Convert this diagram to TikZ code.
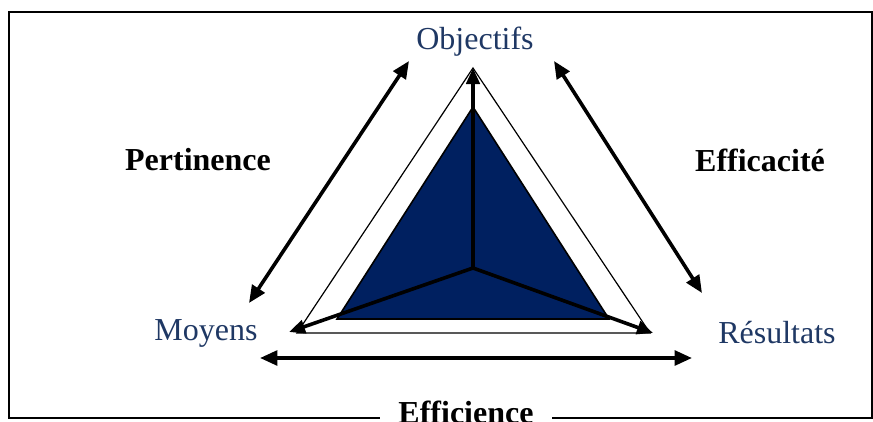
\documentclass[tikz,border=0pt]{standalone}
\usepackage{fontspec}
\setmainfont{Liberation Serif}
\usetikzlibrary{arrows.meta}
\definecolor{navyfill}{RGB}{0,32,96}
\definecolor{labelblue}{RGB}{31,56,100}
\tikzset{
  pole/.style={text=labelblue,font=\fontsize{24}{28}\selectfont,inner sep=0.75pt},
  crit/.style={font=\fontsize{24}{28}\selectfont\bfseries,inner sep=0.75pt},
  link/.style={line width=2.7pt,{Triangle[length=13pt,width=11pt]}-{Triangle[length=13pt,width=11pt]}},
  spoke/.style={line width=2.7pt,-{Triangle[length=12pt,width=10pt]}}
}
\begin{document}
\begin{tikzpicture}[x=0.75pt,y=0.75pt,yscale=-1,xscale=1]
\useasboundingbox (0,0) rectangle (873,421);

%Frame
\draw [line width=1.7pt] (9,12) rectangle (872,418);

%Outer triangle
\coordinate (top) at (473,68);
\coordinate (left) at (297,333);
\coordinate (right) at (650,333);
\draw [line width=0.9pt] (top) -- (left) -- (right) -- cycle;

%Filled triangle
\coordinate (itop) at (473,107);
\coordinate (ileft) at (337,319);
\coordinate (iright) at (609,319);
\draw [fill=navyfill,line width=1.2pt] (itop) -- (ileft) -- (iright) -- cycle;

%Spokes
\coordinate (mid) at (473,268);
\draw [spoke] (mid) -- (top);
\draw [spoke] (mid) -- (289,332);
\draw [spoke] (mid) -- (653,333);

% Text Node
\node [pole] (obj) at (475,42) {Objectifs};
% Text Node
\node [pole] (moy) at (206,333) {Moyens};
% Text Node
\node [pole] (res) at (777,333) {Résultats};
% Text Node
\node [crit] (pert) at (198,160) {Pertinence};
% Text Node
\node [crit] (effc) at (760,160) {Efficacité};
% Text Node
\node [crit,fill=white,inner xsep=14pt,anchor=base] (effi) at (466,423) {Efficience};

%Double arrows
\coordinate (pa) at (249,303);
\coordinate (pb) at (409,61);
\coordinate (ea) at (554,61);
\coordinate (eb) at (702,293);
\coordinate (fa) at (260,358);
\coordinate (fb) at (692,358);
\draw [link] (pa) -- (pb);
\draw [link] (ea) -- (eb);
\draw [link] (fa) -- (fb);

\end{tikzpicture}
\end{document}
